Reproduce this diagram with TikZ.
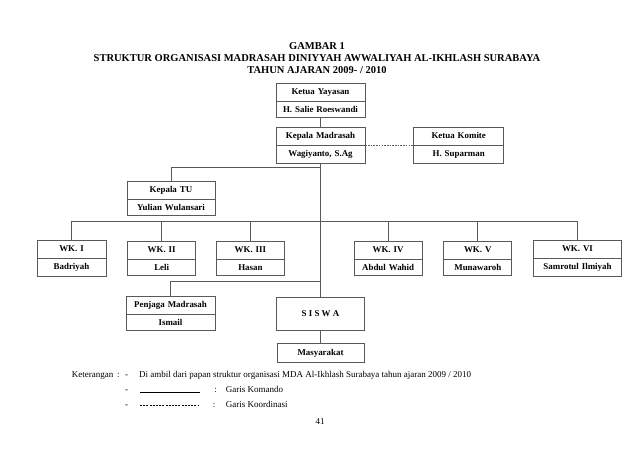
\documentclass[tikz,border=0pt]{standalone}
\usepackage{fontspec}
\setmainfont{Liberation Serif}
\usetikzlibrary{positioning,shapes.multipart}

\begin{document}
\begin{tikzpicture}[
    x=1pt, y=-1pt,
    ln/.style={draw=black!65, line width=0.7pt},
    box/.style={draw=black!65, line width=0.7pt, rectangle split, rectangle split parts=2,
      font=\bfseries\fontsize{8.9}{10}\selectfont, text width=#1, align=center,
      inner xsep=2pt, inner ysep=4.5pt, text height=6.3pt, text depth=2.2pt},
    box/.default=85pt,
    sq/.style={draw=black!65, line width=0.7pt, font=\bfseries\fontsize{8.9}{10}\selectfont, inner sep=0pt},
    ket/.style={font=\fontsize{9}{10}\selectfont, inner sep=0pt}
  ]
    \useasboundingbox[fill=white] (0,0) rectangle (640,452);
    \node[font=\bfseries\fontsize{10.5}{11.7}\selectfont, align=center] (title) at (317,58)
      {GAMBAR 1\\STRUKTUR ORGANISASI MADRASAH DINIYYAH AWWALIYAH AL-IKHLASH SURABAYA\\TAHUN AJARAN 2009- / 2010};
    \node[box] (yayasan) at (320.5,100.5) {Ketua Yayasan\nodepart{two}H. Salie Roeswandi};
    \node[box, below=9pt of yayasan] (kepala) {Kepala Madrasah\nodepart{two}Wagiyanto, S.Ag};
    \node[box=86pt, right=48pt of kepala] (komite) {Ketua Komite\nodepart{two}H. Suparman};
    \node[box=84pt] (tu) at (171,198.5) {Kepala TU\nodepart{two}Yulian Wulansari};
    \node[box=65pt] (wk1) at (71.5,258.5) {WK. I\nodepart{two}Badriyah};
    \node[box=64pt, right=21pt of wk1] (wk2) {WK. II\nodepart{two}Leli};
    \node[box=64pt, right=20pt of wk2] (wk3) {WK. III\nodepart{two}Hasan};
    \node[box=64pt, right=69pt of wk3] (wk4) {WK. IV\nodepart{two}Abdul Wahid};
    \node[box=64pt, right=21pt of wk4] (wk5) {WK. V\nodepart{two}Munawaroh};
    \node[box=84pt, right=21pt of wk5] (wk6) {WK. VI\nodepart{two}Samrotul Ilmiyah};
    \node[box] (penjaga) at (170.5,313.5) {Penjaga Madrasah\nodepart{two}Ismail};
    \node[sq, minimum width=88pt, minimum height=33pt] (siswa) at (320.5,313.5) {S I S W A};
    \node[sq, minimum width=87pt, minimum height=19pt, below=13pt of siswa] (masy) {Masyarakat};
    \coordinate (jtu) at (320.5,167.3);
    \coordinate (jwk) at (320.5,221);
    \coordinate (jpj) at (320.5,281.7);
    \draw[ln] (yayasan) -- (kepala);
    \draw[ln, dash pattern=on 1.6pt off 1.1pt] (kepala) -- (komite);
    \draw[ln] (kepala) -- (siswa);
    \draw[ln] (siswa) -- (masy);
    \draw[ln] (jtu) -| (tu);
    \foreach \w in {wk1,wk2,wk3,wk4,wk5,wk6}
      \draw[ln] (jwk) -| (\w);
    \draw[ln] (jpj) -| (penjaga);
    \node[ket, anchor=base west] (keter) at (71.7,377) {Keterangan};
    \node[ket, anchor=base] (c1) at (118.3,377) {:};
    \node[ket, anchor=base] (d1) at (126.7,377) {-};
    \node[ket, anchor=base west] (sumber) at (139,377)
      {Di ambil dari papan struktur organisasi MDA Al-Ikhlash Surabaya tahun ajaran 2009 / 2010};
    \node[ket, anchor=base] (d2) at (126.7,392) {-};
    \coordinate (kma) at (140,392.7);
    \coordinate (kmb) at (200,392.7);
    \draw[line width=0.6pt] (kma) -- (kmb);
    \node[ket, anchor=base] (c2) at (215.7,392) {:};
    \node[ket, anchor=base west] (komando) at (225.7,392) {Garis Komando};
    \node[ket, anchor=base] (d3) at (126.7,407) {-};
    \coordinate (koa) at (140,405.3);
    \coordinate (kob) at (198,405.3);
    \draw[line width=0.5pt, dash pattern=on 2pt off 1.2pt] (koa) -- (kob);
    \node[ket, anchor=base] (c3) at (214,407) {:};
    \node[ket, anchor=base west] (koord) at (225.7,407) {Garis Koordinasi};
    \node[ket, anchor=base] (hal) at (320,424) {41};
  \end{tikzpicture}
\end{document}
